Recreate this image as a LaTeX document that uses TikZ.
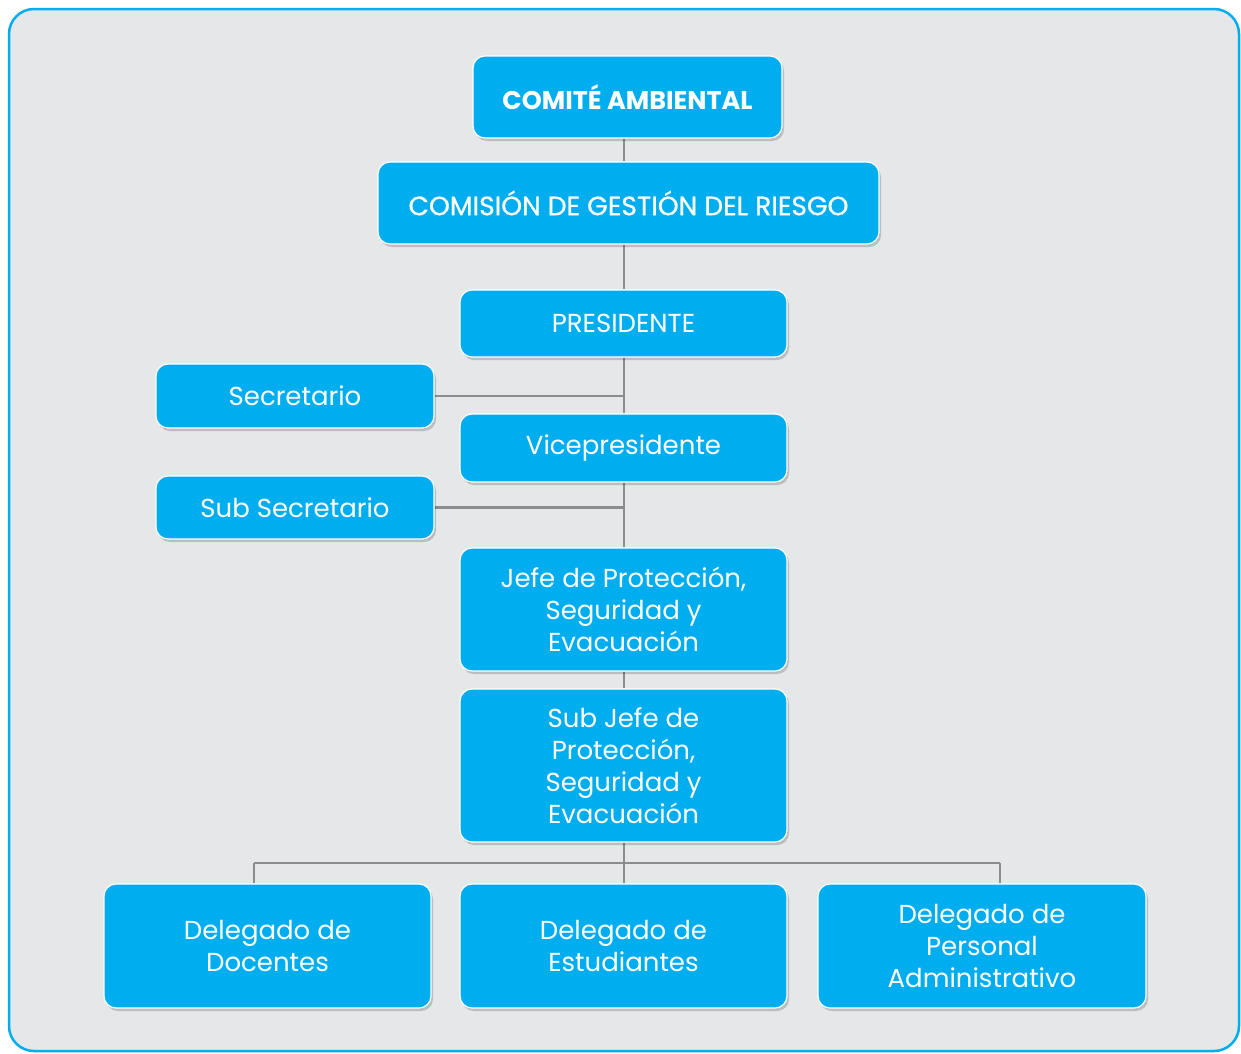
\documentclass[tikz,border=0pt]{standalone}
\usepackage{fontspec}
\setmainfont{Poppins}
\newfontfamily\medfont{Poppins}[FakeBold=0.8]
\usetikzlibrary{shadows,backgrounds}
\definecolor{boxblue}{HTML}{00AEEF}
\definecolor{panel}{HTML}{E6E7E9}
\definecolor{linegray}{HTML}{8C8C8E}
\tikzset{
  orgbox/.style={rounded corners=12pt, fill=boxblue, draw=white, line width=1.2pt,
    text=white, align=center, inner sep=0pt,
    drop shadow={shadow xshift=2pt, shadow yshift=-3pt, fill=black, opacity=0.18},
    font=\fontsize{26}{32}\selectfont},
  link/.style={draw=linegray, line width=2.6pt},
}
\begin{document}
\begin{tikzpicture}[x=1pt,y=-1pt]
\useasboundingbox (0,0) rectangle (1241,1053);
\begin{scope}[on background layer]
\fill[white] (0,0) rectangle (1241,1053);
\draw[fill=panel, draw=boxblue, line width=2.5pt, rounded corners=25pt] (9,9) rectangle (1239,1051);
\end{scope}

\node[orgbox, minimum width=309pt, minimum height=82pt, font=\bfseries\fontsize{25.5}{30}\selectfont] (comite) at (627.5,97) {COMITÉ AMBIENTAL};
\node[orgbox, minimum width=501pt, minimum height=82pt, font=\medfont\fontsize{26.5}{30}\selectfont] (comision) at (628.5,203) {COMISIÓN DE GESTIÓN DEL RIESGO};
\node[orgbox, minimum width=327pt, minimum height=67pt] (pres) at (623.5,323.5) {PRESIDENTE};
\node[orgbox, minimum width=278pt, minimum height=64pt] (secr) at (295,396) {Secretario};
\node[orgbox, minimum width=327pt, minimum height=68pt] (vice) at (623.5,448) {Vicepresidente};
\node[orgbox, minimum width=278pt, minimum height=63pt] (subsecr) at (295,507.5) {Sub Secretario};
\node[orgbox, minimum width=327pt, minimum height=123pt] (jefe) at (623.5,609.5) {Jefe de Protección,\\Seguridad y\\Evacuación};
\node[orgbox, minimum width=327pt, minimum height=153pt] (subjefe) at (623.5,765.5) {Sub Jefe de\\Protección,\\Seguridad y\\Evacuación};
\node[orgbox, minimum width=327pt, minimum height=124pt] (doc) at (267.5,946) {Delegado de\\Docentes};
\node[orgbox, minimum width=327pt, minimum height=124pt] (est) at (623.5,946) {Delegado de\\Estudiantes};
\node[orgbox, minimum width=328pt, minimum height=124pt] (adm) at (982,946) {Delegado de\\Personal\\Administrativo};

\coordinate (secj) at (624,396);
\coordinate (subj) at (624,507.5);
\coordinate (busL) at (254,863);
\coordinate (busM) at (624,863);
\coordinate (busR) at (1000,863);

\begin{scope}[on background layer]
\draw[link] (comite.south -| secj) -- (comision.north -| secj);
\draw[link] (comision.south -| secj) -- (pres.north -| secj);
\draw[link] (pres.south -| secj) -- (vice.north -| secj);
\draw[link] (vice.south -| secj) -- (jefe.north -| secj);
\draw[link] (jefe.south -| secj) -- (subjefe.north -| secj);
\draw[link] (subjefe.south -| secj) -- (est.north -| secj);
\draw[link] (secr.east) -- (secj);
\draw[link] (subsecr.east) -- (subj);
\draw[link] (busL) -- (busR);
\draw[link] (busL) -- (doc.north -| busL);
\draw[link] (busR) -- (adm.north -| busR);
\end{scope}
\end{tikzpicture}
\end{document}
